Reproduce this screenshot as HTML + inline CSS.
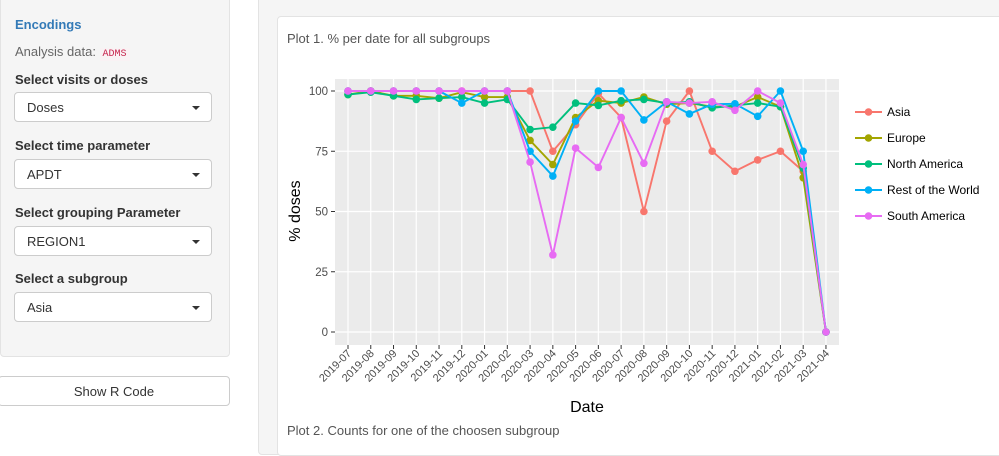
<!DOCTYPE html>
<html><head><meta charset="utf-8"><style>
body{margin:0;width:999px;height:445px;overflow:hidden;background:#fff;font-family:"Liberation Sans",Arial,sans-serif;position:relative}
.side{position:absolute;left:0;top:-5px;width:230px;height:362px;background:#f5f5f5;border:1px solid #e3e3e3;border-radius:4px;box-sizing:border-box}
.t{position:absolute;font-size:13px;color:#333}
.b{font-weight:bold;font-size:13px}
.sel{position:absolute;left:14px;width:198px;height:30px;background:#fff;border:1px solid #ccc;border-radius:4px;box-sizing:border-box;font-size:13px;color:#333;padding:7px 0 0 12px}
.sel:after{content:"";position:absolute;right:11px;top:13px;border-left:4px solid transparent;border-right:4px solid transparent;border-top:4px solid #333}
.btn{position:absolute;left:-2px;top:376px;width:232px;height:30px;border:1px solid #ccc;border-radius:4px;box-sizing:border-box;text-align:center;font-size:13px;color:#333;padding-top:7px;background:#fff}
.outer{position:absolute;left:258px;top:-5px;width:760px;height:460px;background:#f5f5f5;border:1px solid #e3e3e3;border-radius:4px;box-sizing:border-box}
.inner{position:absolute;left:277px;top:16px;width:740px;height:440px;background:#fff;border:1px solid #e3e3e3;border-radius:4px;box-sizing:border-box}
svg{position:absolute;left:0;top:0}
</style></head><body>
<div class="side"></div>
<div class="t" style="left:15px;top:17px;color:#337ab7;font-weight:bold">Encodings</div>
<div class="t" style="left:15px;top:44px;color:#666">Analysis data: <span style="color:#c7254e;font-family:'Liberation Mono',monospace;font-size:10px;background:#f9f2f4;padding:1px 3px">ADMS</span></div>
<div class="t b" style="left:15px;top:72px">Select visits or doses</div>
<div class="sel" style="top:92px">Doses</div>
<div class="t b" style="left:15px;top:138px">Select time parameter</div>
<div class="sel" style="top:159px">APDT</div>
<div class="t b" style="left:15px;top:205px">Select grouping Parameter</div>
<div class="sel" style="top:226px">REGION1</div>
<div class="t b" style="left:15px;top:271px">Select a subgroup</div>
<div class="sel" style="top:292px">Asia</div>
<div class="btn">Show R Code</div>
<div class="outer"></div>
<div class="inner"></div>
<div class="t" style="left:287px;top:31px;color:#555">Plot 1. % per date for all subgroups</div>
<div class="t" style="left:287px;top:423px;color:#555">Plot 2. Counts for one of the choosen subgroup</div>
<svg width="999" height="445" id="s" font-family="Liberation Sans, Arial, sans-serif">
<rect x="335" y="79" width="504" height="266" fill="#ebebeb"/>
<g id="grid"></g>
<g font-size="11.5" fill="#4d4d4d" text-anchor="end">
<text x="328" y="96">100</text><text x="328" y="216">75</text><text x="328" y="156">75</text><text x="328" y="276">50</text><text x="328" y="336">0</text>
</g>
<text x="300" y="211" font-size="16" text-anchor="middle" transform="rotate(-90 300 211)" fill="#000">% doses</text>
<text x="587" y="412" font-size="16" text-anchor="middle" fill="#000">Date</text>
<g id="xl" font-size="11" fill="#4d4d4d" text-anchor="end">
<text>2019-07</text><text>2019-08</text><text>2019-09</text><text>2019-10</text><text>2019-11</text><text>2019-12</text><text>2020-01</text><text>2020-02</text><text>2020-03</text><text>2020-04</text><text>2020-05</text><text>2020-06</text><text>2020-07</text><text>2020-08</text><text>2020-09</text><text>2020-10</text><text>2020-11</text><text>2020-12</text><text>2021-01</text><text>2021-02</text><text>2021-03</text><text>2021-04</text>
</g>
<g id="series"></g>
<g font-size="12" fill="#000">
<text x="887" y="116">Asia</text><text x="887" y="142">Europe</text><text x="887" y="168">North America</text><text x="887" y="194">Rest of the World</text><text x="887" y="220">South America</text>
</g>
<g id="leg"></g>
</svg>
<script>
var NS="http://www.w3.org/2000/svg",s=document.getElementById('s');
function el(p,t,a){var e=document.createElementNS(NS,t);for(var k in a)e.setAttribute(k,a[k]);p.appendChild(e);return e}
var X=function(i){return 348+i*22.76},Y=function(v){return 332-v*2.41};
var g=document.getElementById('grid');
var y0=s.querySelectorAll('g')[1];y0.innerHTML='';
[0,25,50,75,100].forEach(function(v){var t=el(y0,'text',{x:328,y:Y(v)+4});t.textContent=v;});
[0,25,50,75,100].forEach(function(v){el(g,'line',{x1:335,x2:839,y1:Y(v),y2:Y(v),stroke:'#fff','stroke-width':1.2});el(g,'line',{x1:331,x2:335,y1:Y(v),y2:Y(v),stroke:'#333'})});
for(var i=0;i<22;i++){el(g,'line',{x1:X(i),x2:X(i),y1:79,y2:345,stroke:'#fff','stroke-width':1.2});el(g,'line',{x1:X(i),x2:X(i),y1:345,y2:349,stroke:'#333'});}
var ts=document.getElementById('xl').children;
for(var i=0;i<ts.length;i++){var x=X(i)+4,y=354;ts[i].setAttribute('x',x);ts[i].setAttribute('y',y);ts[i].setAttribute('transform','rotate(-45 '+x+' '+y+')');}
var D=[
['#F8766D',[100,100,100,100,100,100,100,100,100,75,86,99,89,50,87.5,100,75,66.7,71.4,75,66.7,0]],
['#A3A500',[98.5,100,98,98,97,99.5,97.5,97.5,79.5,69.5,89,96,95,97.5,94.5,95,93.5,93.5,97.5,93.5,64,0]],
['#00BF7D',[98.5,99.5,98,96.5,97,97.5,95,96.5,84,85,95,94,96,96.5,95,95.5,93,94,95,93.5,68,0]],
['#00B0F6',[100,100,100,100,100,95,100,100,75,64.7,87.5,100,100,88,95.5,90.5,94.5,94.7,89.5,100,75,0]],
['#E76BF3',[100,100,100,100,100,100,100,100,70.5,32,76.3,68.3,89,70,95.5,95,95.5,92,100,95,69.5,0]]];
var sg=document.getElementById('series'),lg=document.getElementById('leg');
D.forEach(function(d,k){var p=d[1].map(function(v,i){return X(i)+','+Y(v)}).join(' ');
el(sg,'polyline',{points:p,fill:'none',stroke:d[0],'stroke-width':1.9});
d[1].forEach(function(v,i){el(sg,'circle',{cx:X(i),cy:Y(v),r:3.8,fill:d[0]})});
var ly=112+k*26;el(lg,'line',{x1:855,x2:882,y1:ly,y2:ly,stroke:d[0],'stroke-width':1.9});el(lg,'circle',{cx:868.5,cy:ly,r:3.8,fill:d[0]});});
</script>
</body></html>
